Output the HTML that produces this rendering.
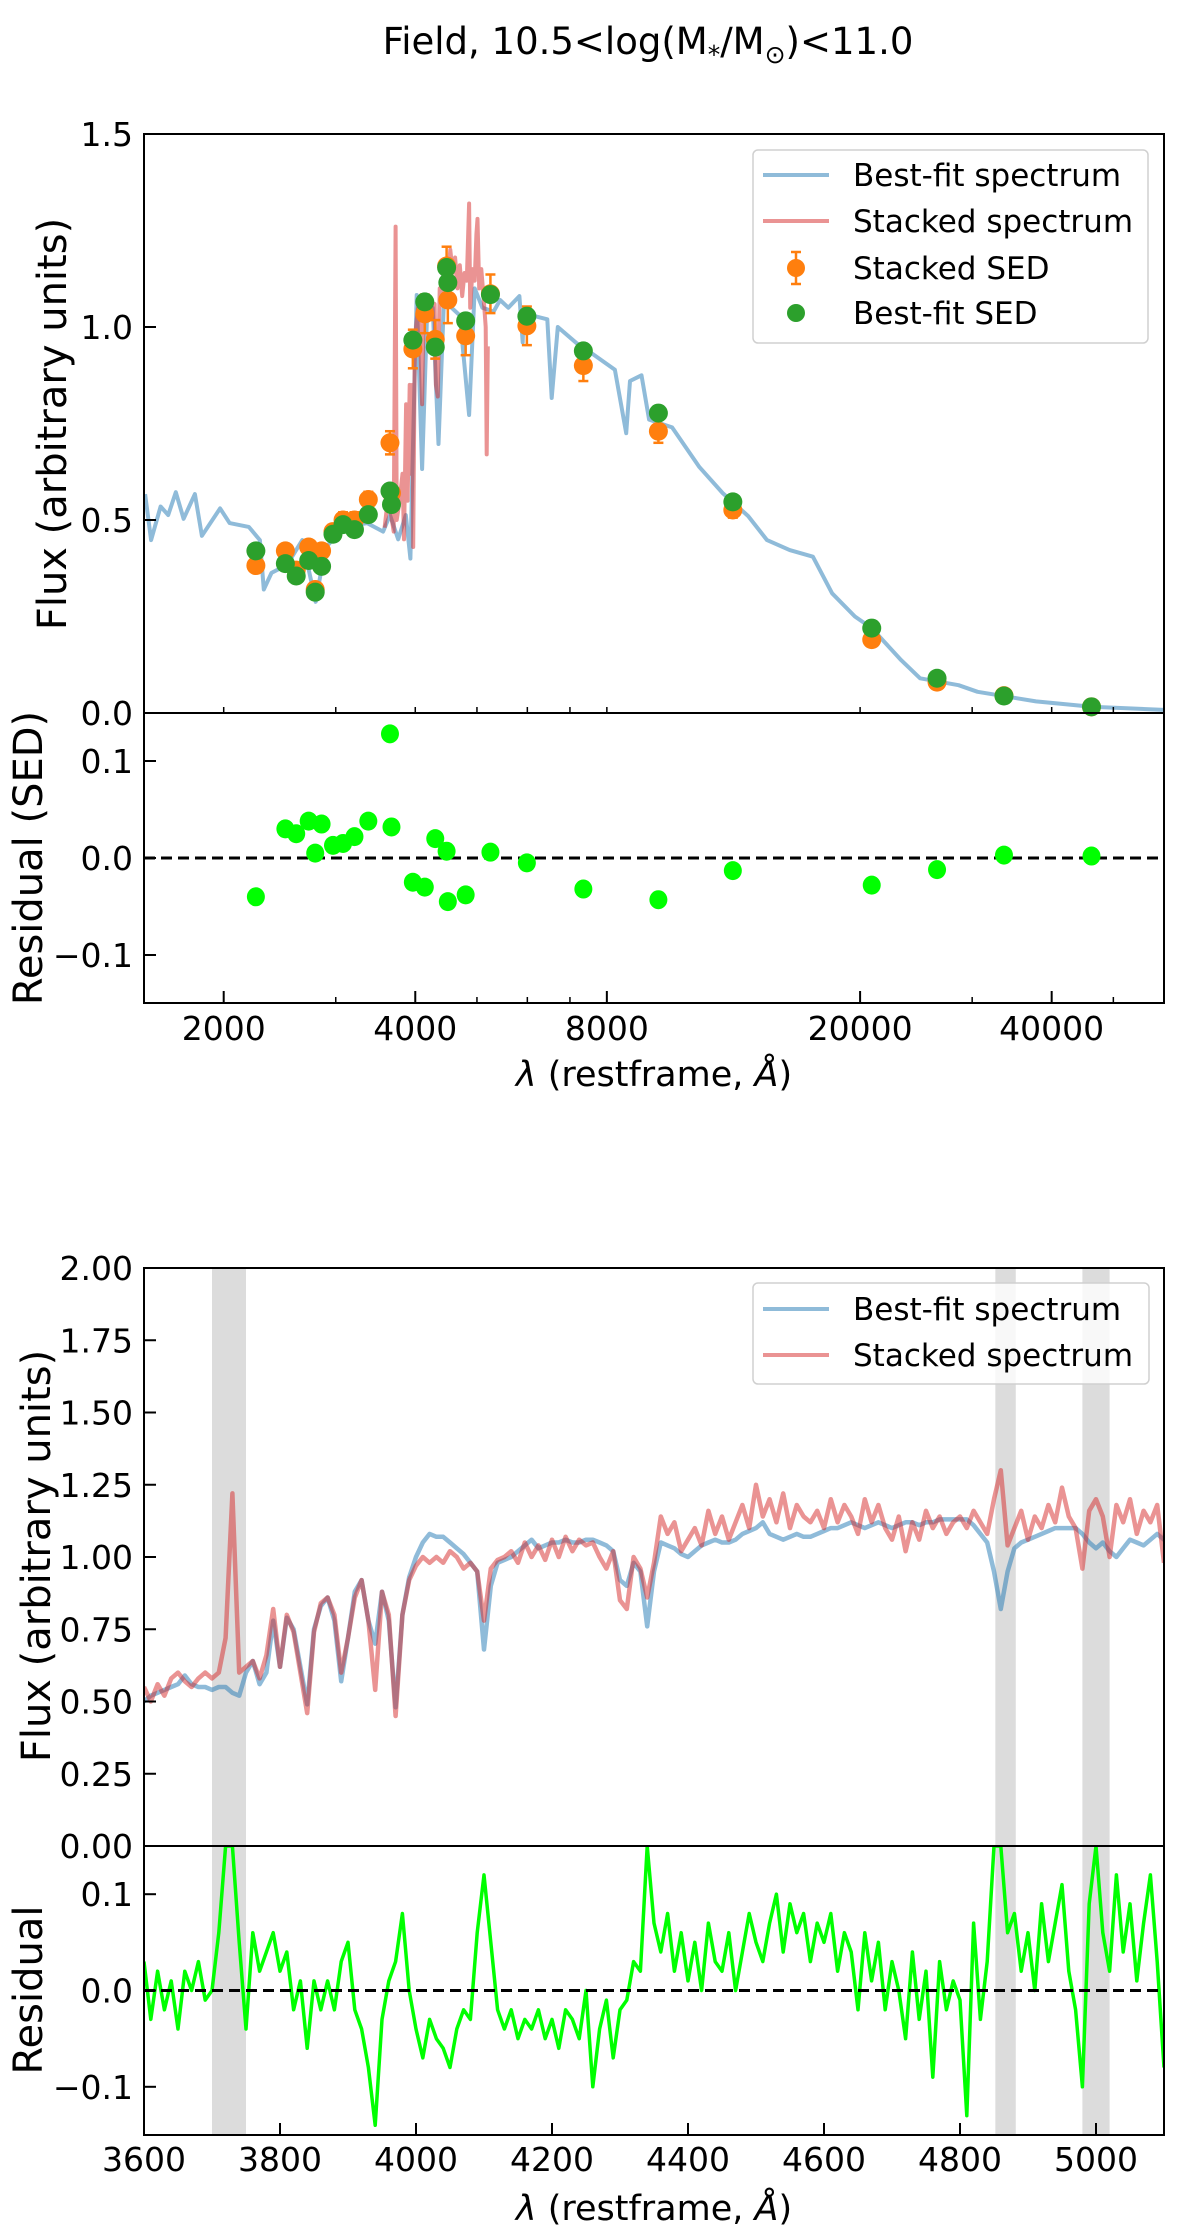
<!DOCTYPE html>
<html><head><meta charset="utf-8"><style>
html,body{margin:0;padding:0;background:#fff;}
svg{display:block;font-family:"DejaVu Sans","Liberation Sans",sans-serif;}
</style></head><body>
<svg id="fig" width="1200" height="2240" viewBox="0 0 1200 2240" xmlns="http://www.w3.org/2000/svg">
<rect width="1200" height="2240" fill="#fff"/>
<text x="648" y="54" font-size="37" text-anchor="middle">Field, 10.5&lt;log(M<tspan font-size="25" dy="9">*</tspan><tspan dy="-9">/M</tspan><tspan font-size="25" dy="9">⊙</tspan><tspan dy="-9">)&lt;11.0</tspan></text>
<g id="gtop"></g>
<g id="gbot"></g>
</svg>
<script>
// ---------------- DATA: top panel (SED) ----------------
const bfWave = [1505,1538,1592,1636,1682,1730,1802,1848,1974,2043,2190,2280,2312,2378,2516,2658,2790,2887,3090,3360,3560,3650,3760,3865,3930,3975,4020,4100,4180,4260,4350,4440,4560,4700,4860,4960,5100,5310,5437,5600,5830,5900,5920,6100,6450,6553,6700,7170,7600,8235,8580,8700,9070,9320,10130,11180,12160,13340,14280,15500,16860,18070,19630,20860,23200,24850,28560,30600,37800,46200,60000];
const bfFlux = [0.567,0.448,0.535,0.513,0.572,0.503,0.567,0.459,0.53,0.492,0.482,0.448,0.32,0.363,0.384,0.448,0.288,0.427,0.482,0.492,0.47,0.513,0.45,0.513,0.40,0.75,1.083,0.632,1.06,1.05,0.697,1.08,1.05,1.03,0.772,1.1,1.05,1.04,1.07,1.05,1.08,0.96,1.04,1.03,1.02,0.816,1.0,0.958,0.93,0.889,0.725,0.86,0.875,0.76,0.74,0.637,0.57,0.51,0.448,0.422,0.405,0.31,0.25,0.22,0.137,0.09,0.072,0.055,0.03,0.016,0.008];
const stWave = [3580,3620,3660,3700,3725,3740,3780,3820,3840,3870,3890,3920,3935,3960,3970,3990,4010,4040,4070,4100,4120,4160,4200,4240,4290,4310,4340,4370,4420,4460,4500,4540,4580,4620,4660,4700,4740,4780,4820,4860,4880,4920,4960,4990,5010,5040,5080,5120,5160,5180,5200];
const stFlux = [0.48,0.55,0.52,0.47,1.26,0.50,0.55,0.62,0.45,0.80,0.55,0.85,0.62,0.85,0.43,0.90,1.00,1.05,0.98,0.80,1.02,1.05,1.08,1.04,1.06,0.85,0.82,1.10,1.08,1.15,1.12,1.20,1.14,1.18,1.10,1.16,1.08,1.14,1.12,1.32,1.05,1.15,1.12,1.24,1.28,1.10,1.15,1.08,1.00,0.67,0.95];
const sedWave = [2247,2500,2600,2720,2850,2785,2970,3080,3210,3375,3650,3670,3965,4140,4300,4480,4500,4800,5250,5990,7348,9640,12620,20860,26420,33660,46200];
const sedObs  = [0.382,0.42,0.37,0.43,0.42,0.32,0.47,0.50,0.50,0.553,0.70,0.57,0.943,1.034,0.968,1.158,1.07,0.977,1.086,1.003,0.90,0.73,0.526,0.19,0.08,0.045,0.016];
const sedErr  = [0.01,0.01,0.01,0.015,0.015,0.01,0.015,0.02,0.02,0.02,0.03,0.02,0.05,0.05,0.05,0.05,0.06,0.05,0.05,0.05,0.04,0.03,0.02,0.01,0.01,0.005,0.003];
const sedFit  = [0.42,0.387,0.355,0.395,0.38,0.313,0.463,0.488,0.475,0.514,0.575,0.54,0.966,1.065,0.948,1.154,1.115,1.016,1.084,1.028,0.938,0.777,0.547,0.22,0.09,0.044,0.016];
const sedRes  = [-0.04,0.03,0.025,0.038,0.035,0.005,0.013,0.015,0.022,0.038,0.128,0.032,-0.025,-0.03,0.02,0.007,-0.045,-0.038,0.006,-0.005,-0.032,-0.043,-0.013,-0.028,-0.012,0.003,0.002];
const topXTicks = [2000,4000,8000,20000,40000];
const topXMinor = [3000,5000,6000,7000,30000,50000];
const topYTicks = [0,0.5,1.0,1.5];
const topYLabels = ["0.0","0.5","1.0","1.5"];
const resYTicks = [-0.1,0.0,0.1];
const resYLabels = ["\u22120.1","0.0","0.1"];

// ---------------- DATA: bottom panel (zoom) ----------------
const zStart = 3600, zStep = 10;
const zBest = [0.50,0.52,0.53,0.54,0.55,0.56,0.59,0.56,0.55,0.55,0.54,0.55,0.55,0.53,0.52,0.60,0.64,0.56,0.60,0.78,0.62,0.79,0.75,0.62,0.49,0.75,0.83,0.86,0.78,0.57,0.72,0.88,0.92,0.78,0.70,0.88,0.78,0.48,0.80,0.93,1.00,1.05,1.08,1.07,1.07,1.05,1.03,1.01,0.98,0.95,0.68,0.90,0.98,0.99,1.00,1.02,1.04,1.06,1.03,1.04,1.05,1.05,1.06,1.05,1.05,1.06,1.06,1.05,1.04,1.02,0.92,0.90,0.98,0.95,0.76,0.95,1.05,1.04,1.03,1.01,1.00,1.02,1.04,1.05,1.06,1.05,1.05,1.06,1.08,1.09,1.10,1.12,1.08,1.07,1.06,1.07,1.08,1.07,1.07,1.08,1.09,1.10,1.10,1.11,1.12,1.11,1.10,1.11,1.12,1.11,1.10,1.11,1.12,1.12,1.11,1.12,1.12,1.13,1.13,1.13,1.13,1.13,1.11,1.08,1.05,0.95,0.82,0.95,1.03,1.05,1.06,1.07,1.08,1.09,1.10,1.10,1.10,1.10,1.08,1.05,1.03,1.05,1.02,1.00,1.03,1.06,1.05,1.04,1.06,1.08,1.06,1.06,1.06];
const zStack = [0.55,0.50,0.56,0.52,0.58,0.60,0.57,0.55,0.58,0.60,0.58,0.60,0.72,1.22,0.60,0.62,0.64,0.58,0.66,0.82,0.62,0.80,0.74,0.60,0.46,0.74,0.84,0.86,0.80,0.60,0.72,0.86,0.92,0.78,0.54,0.88,0.80,0.45,0.80,0.92,0.97,1.00,0.98,1.00,0.98,1.02,1.00,0.96,0.98,0.95,0.78,0.96,0.99,1.00,1.02,0.98,1.05,1.00,1.04,0.99,1.06,1.00,1.07,1.02,1.06,1.04,1.05,1.00,0.96,1.02,0.85,0.82,1.00,0.96,0.86,0.98,1.14,1.08,1.12,1.02,1.06,1.10,1.04,1.16,1.08,1.14,1.06,1.12,1.18,1.10,1.25,1.14,1.20,1.12,1.22,1.10,1.18,1.14,1.12,1.16,1.10,1.20,1.12,1.18,1.14,1.08,1.20,1.12,1.18,1.10,1.06,1.14,1.02,1.12,1.06,1.16,1.10,1.14,1.08,1.12,1.14,1.10,1.16,1.12,1.08,1.20,1.30,1.04,1.10,1.16,1.06,1.14,1.10,1.18,1.12,1.24,1.14,1.10,0.96,1.16,1.20,1.14,1.00,1.18,1.12,1.20,1.08,1.16,1.12,1.18,0.98];
const zRes = [0.03,-0.03,0.02,-0.02,0.01,-0.04,0.02,0.00,0.03,-0.01,0.00,0.06,0.15,0.15,0.05,-0.04,0.06,0.02,0.04,0.06,0.02,0.04,-0.02,0.01,-0.06,0.01,-0.02,0.01,-0.02,0.03,0.05,-0.02,-0.04,-0.08,-0.14,-0.03,0.01,0.03,0.08,0.00,-0.04,-0.07,-0.03,-0.05,-0.06,-0.08,-0.04,-0.02,-0.03,0.06,0.12,0.05,-0.02,-0.04,-0.02,-0.05,-0.03,-0.04,-0.02,-0.05,-0.03,-0.06,-0.02,-0.03,-0.05,0.00,-0.10,-0.04,-0.01,-0.07,-0.02,-0.01,0.03,0.02,0.15,0.07,0.04,0.08,0.02,0.06,0.01,0.05,0.00,0.07,0.03,0.02,0.06,0.00,0.04,0.08,0.05,0.03,0.07,0.10,0.04,0.09,0.06,0.08,0.03,0.07,0.05,0.08,0.02,0.06,0.04,-0.02,0.06,0.01,0.05,-0.02,0.03,0.00,-0.05,0.04,-0.03,0.02,-0.09,0.03,-0.02,0.01,-0.01,-0.13,0.07,-0.03,0.03,0.15,0.15,0.06,0.08,0.02,0.06,0.00,0.09,0.03,0.07,0.11,0.02,-0.02,-0.10,0.09,0.15,0.06,0.02,0.12,0.04,0.09,0.01,0.07,0.12,0.03,-0.08];
const bands = [[3700,3750],[4852,4882],[4980,5020]];
const botXTicks = [3600,3800,4000,4200,4400,4600,4800,5000];
const botYTicks = [0,0.25,0.5,0.75,1.0,1.25,1.5,1.75,2.0];
const botYLabels = ["0.00","0.25","0.50","0.75","1.00","1.25","1.50","1.75","2.00"];

// ---------------- helpers ----------------
const NS = "http://www.w3.org/2000/svg";
function mk(parent, tag, attrs, text) {
  const e = document.createElementNS(NS, tag);
  for (const k in attrs) e.setAttribute(k, attrs[k]);
  if (text !== undefined) e.textContent = text;
  parent.appendChild(e);
  return e;
}
const BLUE = "#1f77b4", RED = "#d62728", ORANGE = "#ff7f0e", GREEN = "#2ca02c", LIME = "#00ff00";
const TF = 33, LF = 31, AF = 40;

const tL = 144, tR = 1164, tT = 134, tB = 713, rB = 1003, rZero = 858;
const xT = w => 223.7 + 636.4 * Math.log10(w / 2000);
const yT = f => tB - f * 386;
const yR = r => rZero - r * 970;
const bL = 144, bR = 1164, bT = 1268, bB = 1846, bRB = 2135, bZero = 1990.5;
const xB = w => bL + (w - 3600) * (bR - bL) / 1500;
const yB = f => bB - f * 289;
const yBR = r => bZero - r * 963;

const gTop = document.getElementById("gtop");
const gBot = document.getElementById("gbot");

// ============ TOP PANEL ============
const clipTop = mk(gTop, "clipPath", {id: "clipTop"});
mk(clipTop, "rect", {x: tL, y: tT, width: tR - tL, height: tB - tT});

let d = bfWave.map((w, i) => (i ? "L" : "M") + xT(w).toFixed(1) + "," + yT(bfFlux[i]).toFixed(1)).join("");
let p = mk(gTop, "path", {d: d, fill: "none", stroke: BLUE, "stroke-opacity": 0.5, "stroke-width": 4, "stroke-linejoin": "round", "clip-path": "url(#clipTop)"});



d = stWave.map((w, i) => (i ? "L" : "M") + xT(w).toFixed(1) + "," + yT(stFlux[i]).toFixed(1)).join("");
p = mk(gTop, "path", {d: d, fill: "none", stroke: RED, "stroke-opacity": 0.5, "stroke-width": 4, "stroke-linejoin": "round", "clip-path": "url(#clipTop)"});



sedWave.forEach((w, i) => {
  const x = xT(w), y = yT(sedObs[i]);
  const g = mk(gTop, "g", {});
  
  
  const y1 = yT(sedObs[i] + sedErr[i]), y2 = yT(sedObs[i] - sedErr[i]);
  mk(g, "line", {x1: x, x2: x, y1: y1, y2: y2, stroke: ORANGE, "stroke-width": 2.5});
  mk(g, "line", {x1: x - 5, x2: x + 5, y1: y1, y2: y1, stroke: ORANGE, "stroke-width": 2.5});
  mk(g, "line", {x1: x - 5, x2: x + 5, y1: y2, y2: y2, stroke: ORANGE, "stroke-width": 2.5});
  mk(g, "circle", {cx: x, cy: y, r: 9.5, fill: ORANGE});
});
sedWave.forEach((w, i) => {
  const c = mk(gTop, "circle", {cx: xT(w), cy: yT(sedFit[i]), r: 9.5, fill: GREEN});
  
  
});

let dl = mk(gTop, "line", {x1: tL, x2: tR, y1: yR(0), y2: yR(0), stroke: "#000", "stroke-width": 3, "stroke-dasharray": "11,6"});


sedWave.forEach((w, i) => {
  const c = mk(gTop, "ellipse", {cx: xT(w), cy: yR(sedRes[i]), rx: 9, ry: 9.5, fill: LIME});
  
  
});

let fr = mk(gTop, "rect", {x: tL, y: tT, width: tR - tL, height: tB - tT, fill: "none", stroke: "#000", "stroke-width": 2});


fr = mk(gTop, "rect", {x: tL, y: tB, width: tR - tL, height: rB - tB, fill: "none", stroke: "#000", "stroke-width": 2});



topYTicks.forEach((v, i) => {
  const y = yT(v);
  mk(gTop, "line", {x1: tL, x2: tL + 12, y1: y, y2: y, stroke: "#000", "stroke-width": 2});
  const t = mk(gTop, "text", {x: 133, y: y + 12, "font-size": TF, "text-anchor": "end"}, topYLabels[i]);
  
  
});
resYTicks.forEach((v, i) => {
  const y = yR(v);
  mk(gTop, "line", {x1: tL, x2: tL + 12, y1: y, y2: y, stroke: "#000", "stroke-width": 2});
  const t = mk(gTop, "text", {x: 133, y: y + 12, "font-size": TF, "text-anchor": "end"}, resYLabels[i]);
  
  
});
topXTicks.forEach(w => {
  const x = xT(w);
  mk(gTop, "line", {x1: x, x2: x, y1: rB, y2: rB - 12, stroke: "#000", "stroke-width": 2});
  mk(gTop, "line", {x1: x, x2: x, y1: tB, y2: tB - 6, stroke: "#000", "stroke-width": 1.5});
  const t = mk(gTop, "text", {x: x, y: 1040, "font-size": TF, "text-anchor": "middle"}, String(w));
  
  
});
topXMinor.forEach(w => {
  const x = xT(w);
  mk(gTop, "line", {x1: x, x2: x, y1: rB, y2: rB - 6, stroke: "#000", "stroke-width": 1.5});
  mk(gTop, "line", {x1: x, x2: x, y1: tB, y2: tB - 6, stroke: "#000", "stroke-width": 1.5});
});
let lab = mk(gTop, "text", {x: 654, y: 1086, "font-size": 35, "text-anchor": "middle"});
mk(lab, "tspan", {"font-style": "italic"}, "λ");
mk(lab, "tspan", {}, " (restframe, ");
mk(lab, "tspan", {"font-style": "italic"}, "Å");
mk(lab, "tspan", {}, ")");


lab = mk(gTop, "text", {x: 0, y: 0, "font-size": AF, "text-anchor": "middle", transform: "translate(66,424) rotate(-90)"}, "Flux (arbitrary units)");


lab = mk(gTop, "text", {x: 0, y: 0, "font-size": AF, "text-anchor": "middle", transform: "translate(42,858) rotate(-90)"}, "Residual (SED)");



const lg = mk(gTop, "g", {});


mk(lg, "rect", {x: 753, y: 150, width: 395, height: 193, rx: 5, fill: "#fff", "fill-opacity": 0.8, stroke: "#d0d0d0", "stroke-width": 1.5});
const rows = [175, 221, 268, 313];
const names = ["Best-fit spectrum", "Stacked spectrum", "Stacked SED", "Best-fit SED"];
mk(lg, "line", {x1: 763, x2: 829, y1: rows[0], y2: rows[0], stroke: BLUE, "stroke-opacity": 0.5, "stroke-width": 4});
mk(lg, "line", {x1: 763, x2: 829, y1: rows[1], y2: rows[1], stroke: RED, "stroke-opacity": 0.5, "stroke-width": 4});
mk(lg, "line", {x1: 796, x2: 796, y1: rows[2] - 16, y2: rows[2] + 16, stroke: ORANGE, "stroke-width": 2.5});
mk(lg, "line", {x1: 791, x2: 801, y1: rows[2] - 16, y2: rows[2] - 16, stroke: ORANGE, "stroke-width": 2.5});
mk(lg, "line", {x1: 791, x2: 801, y1: rows[2] + 16, y2: rows[2] + 16, stroke: ORANGE, "stroke-width": 2.5});
mk(lg, "circle", {cx: 796, cy: rows[2], r: 9, fill: ORANGE});
mk(lg, "circle", {cx: 796, cy: rows[3], r: 9, fill: GREEN});
names.forEach((n, i) => {
  const t = mk(lg, "text", {x: 853, y: rows[i] + 11, "font-size": LF}, n);
  
  
});

// ============ BOTTOM PANEL ============
bands.forEach(b => {
  const r = mk(gBot, "rect", {x: xB(b[0]), y: bT, width: xB(b[1]) - xB(b[0]), height: bRB - bT, fill: "#dcdcdc"});
  
  
});
const clipB = mk(gBot, "clipPath", {id: "clipB"});
mk(clipB, "rect", {x: bL, y: bT, width: bR - bL, height: bB - bT});
const clipBR = mk(gBot, "clipPath", {id: "clipBR"});
mk(clipBR, "rect", {x: bL, y: bB, width: bR - bL, height: bRB - bB});

d = zBest.map((v, i) => (i ? "L" : "M") + xB(zStart + i * zStep).toFixed(1) + "," + yB(v).toFixed(1)).join("");
p = mk(gBot, "path", {d: d, fill: "none", stroke: BLUE, "stroke-opacity": 0.5, "stroke-width": 4.5, "stroke-linejoin": "round", "clip-path": "url(#clipB)"});


d = zStack.map((v, i) => (i ? "L" : "M") + xB(zStart + i * zStep).toFixed(1) + "," + yB(v).toFixed(1)).join("");
p = mk(gBot, "path", {d: d, fill: "none", stroke: RED, "stroke-opacity": 0.5, "stroke-width": 4.5, "stroke-linejoin": "round", "clip-path": "url(#clipB)"});



d = zRes.map((v, i) => (i ? "L" : "M") + xB(zStart + i * zStep).toFixed(1) + "," + yBR(v).toFixed(1)).join("");
p = mk(gBot, "path", {d: d, fill: "none", stroke: LIME, "stroke-width": 3.5, "stroke-linejoin": "round", "clip-path": "url(#clipBR)"});


dl = mk(gBot, "line", {x1: bL, x2: bR, y1: yBR(0), y2: yBR(0), stroke: "#000", "stroke-width": 3, "stroke-dasharray": "11,6"});



fr = mk(gBot, "rect", {x: bL, y: bT, width: bR - bL, height: bB - bT, fill: "none", stroke: "#000", "stroke-width": 2});


fr = mk(gBot, "rect", {x: bL, y: bB, width: bR - bL, height: bRB - bB, fill: "none", stroke: "#000", "stroke-width": 2});



botYTicks.forEach((v, i) => {
  const y = yB(v);
  mk(gBot, "line", {x1: bL, x2: bL + 12, y1: y, y2: y, stroke: "#000", "stroke-width": 2});
  const t = mk(gBot, "text", {x: 133, y: y + 12, "font-size": TF, "text-anchor": "end"}, botYLabels[i]);
  
  
});
resYTicks.forEach((v, i) => {
  const y = yBR(v);
  mk(gBot, "line", {x1: bL, x2: bL + 12, y1: y, y2: y, stroke: "#000", "stroke-width": 2});
  const t = mk(gBot, "text", {x: 133, y: y + 12, "font-size": TF, "text-anchor": "end"}, resYLabels[i]);
  
  
});
botXTicks.forEach(w => {
  const x = xB(w);
  mk(gBot, "line", {x1: x, x2: x, y1: bRB, y2: bRB - 12, stroke: "#000", "stroke-width": 2});
  const t = mk(gBot, "text", {x: x, y: 2171, "font-size": TF, "text-anchor": "middle"}, String(w));
  
  
});
lab = mk(gBot, "text", {x: 654, y: 2220, "font-size": 35, "text-anchor": "middle"});
mk(lab, "tspan", {"font-style": "italic"}, "λ");
mk(lab, "tspan", {}, " (restframe, ");
mk(lab, "tspan", {"font-style": "italic"}, "Å");
mk(lab, "tspan", {}, ")");


lab = mk(gBot, "text", {x: 0, y: 0, "font-size": AF, "text-anchor": "middle", transform: "translate(50,1556) rotate(-90)"}, "Flux (arbitrary units)");


lab = mk(gBot, "text", {x: 0, y: 0, "font-size": AF, "text-anchor": "middle", transform: "translate(42,1990) rotate(-90)"}, "Residual");



const lg2 = mk(gBot, "g", {});


mk(lg2, "rect", {x: 753, y: 1283, width: 396, height: 101, rx: 5, fill: "#fff", "fill-opacity": 0.8, stroke: "#d0d0d0", "stroke-width": 1.5});
mk(lg2, "line", {x1: 763, x2: 829, y1: 1309, y2: 1309, stroke: BLUE, "stroke-opacity": 0.5, "stroke-width": 4});
mk(lg2, "line", {x1: 763, x2: 829, y1: 1355, y2: 1355, stroke: RED, "stroke-opacity": 0.5, "stroke-width": 4});
let le = mk(lg2, "text", {x: 853, y: 1320, "font-size": LF}, "Best-fit spectrum");


le = mk(lg2, "text", {x: 853, y: 1366, "font-size": LF}, "Stacked spectrum");


</script>
</body></html>
